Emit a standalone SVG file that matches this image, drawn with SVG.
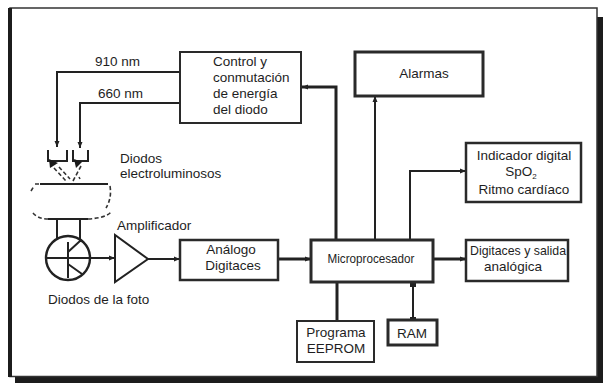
<svg xmlns="http://www.w3.org/2000/svg" width="603" height="383" viewBox="0 0 603 383">
<style>
text{font-family:"Liberation Sans",Arial,sans-serif;font-size:13.5px;fill:#1e1e1e}
.box{fill:#fff;stroke:#2a2a2a}
.ln{fill:none;stroke:#222;stroke-width:2}
.thk{fill:none;stroke:#222;stroke-width:3}
.dsh{fill:none;stroke:#333;stroke-width:1.6;stroke-dasharray:4 2.5}
.mid{text-anchor:middle}
</style>
<defs>
<marker id="ar" markerUnits="userSpaceOnUse" markerWidth="7" markerHeight="7" refX="6" refY="3.5" orient="auto">
<path d="M0,1 L6,3.5 L0,6 Z" fill="#222"/>
</marker>
<marker id="sq" markerUnits="userSpaceOnUse" markerWidth="6" markerHeight="6" refX="3" refY="3" orient="auto">
<rect x="0" y="0" width="6" height="6" fill="#222"/>
</marker>
</defs>
<g id="frame">
<rect x="15" y="17" width="588" height="366" fill="#1c1c1c"/>
<rect x="10" y="8" width="587" height="368.5" fill="#fff" stroke="#333" stroke-width="1.5"/>
<line x1="10" y1="8" x2="10" y2="377" stroke="#1c1c1c" stroke-width="4"/>
</g>
<g id="connectors">
<path class="ln" d="M196,72 H57 V147" marker-end="url(#ar)"/>
<rect x="192" y="70" width="5" height="5" fill="#222"/>
<path class="ln" d="M193,98 V103 H80 V148" marker-end="url(#ar)"/>
<path class="ln" d="M90,258 H115" marker-end="url(#ar)"/>
<path class="ln" d="M148,259 H180" marker-end="url(#ar)"/>
<path class="thk" d="M278,259 H311" marker-end="url(#ar)"/>
<path class="thk" d="M336,240 V87 H302" marker-end="url(#ar)"/>
<path class="ln" d="M375,240 V96" marker-end="url(#ar)"/>
<path class="ln" d="M410,240 V171 H466" marker-end="url(#ar)"/>
<path class="thk" d="M433,259 H466" marker-end="url(#ar)"/>
<path class="thk" d="M337,282 V321"/>
<path class="ln" d="M413,284 V320" marker-start="url(#sq)" marker-end="url(#sq)"/>
</g>
<g id="leds">
<path class="ln" d="M48,150 V161 H67 V150"/>
<polygon points="49,159 58,163 50,168" fill="#1a1a1a"/>
<path class="ln" d="M73,150 V161 H88 V150"/>
<polygon points="74,159 82,162 76,168" fill="#1a1a1a"/>
<path class="dsh" d="M54,168 L66,181 M59,167 L70,179 M81,166 L73,181 M79,177 L80,179"/>
<text x="120" y="163">Diodos</text>
<text x="120" y="178">electroluminosos</text>
</g>
<g id="finger">
<path class="ln" d="M40,184 H108" stroke-width="1.6"/>
<path class="dsh" d="M31,191 L34,186 M35,184 H40"/>
<path class="dsh" d="M110,186 Q112,198 106,208"/>
<path class="dsh" d="M33,213 Q38,219 48,219"/>
<path class="ln" d="M48,219 H88" stroke-width="1.6"/>
<path class="dsh" d="M88,219 Q106,218 111,212"/>
</g>
<g id="photodiode">
<path class="ln" d="M57,220 V240 M80,220 V242"/>
<circle cx="68" cy="258" r="22" fill="none" stroke="#222" stroke-width="2.4"/>
<path class="ln" d="M45,258 H90 M68,242 V278 M68,252 L80,241 M68,264 L82,274"/>
<text x="48" y="304">Diodos de la foto</text>
</g>
<g id="amplifier">
<polygon points="115,235 115,282 148,259" fill="#fff" stroke="#222" stroke-width="2"/>
<text x="117" y="230">Amplificador</text>
</g>
<g id="control">
<rect class="box" x="180" y="52" width="121" height="71" stroke-width="2"/>
<text x="213" y="66">Control y</text>
<text x="213" y="82">conmutación</text>
<text x="213" y="98">de energía</text>
<text x="213" y="114">del diodo</text>
</g>
<g id="wavelengths">
<text x="95" y="66">910 nm</text>
<text x="98" y="98">660 nm</text>
</g>
<g id="alarmas">
<rect class="box" x="355" y="52" width="128" height="44" stroke-width="3"/>
<text class="mid" x="424" y="78">Alarmas</text>
</g>
<g id="indicador">
<rect class="box" x="466" y="143" width="115" height="59" stroke-width="2.5"/>
<text class="mid" x="524" y="160">Indicador digital</text>
<text class="mid" x="521" y="176">SpO<tspan font-size="8" dy="2.5">2</tspan></text>
<text class="mid" x="524" y="194">Ritmo cardíaco</text>
</g>
<g id="analogo">
<rect class="box" x="180" y="240" width="98" height="40" stroke-width="2.5"/>
<text class="mid" x="231" y="254">Análogo</text>
<text class="mid" x="233" y="270">Digitaces</text>
</g>
<g id="micro">
<rect class="box" x="311" y="240" width="122" height="42" stroke-width="3"/>
<text class="mid" x="371" y="263" textLength="87" lengthAdjust="spacingAndGlyphs">Microprocesador</text>
</g>
<g id="salida">
<rect class="box" x="466" y="240" width="102" height="41" stroke-width="2.5"/>
<text class="mid" x="518" y="255" textLength="96" lengthAdjust="spacingAndGlyphs">Digitaces y salida</text>
<text class="mid" x="513" y="271">analógica</text>
</g>
<g id="eeprom">
<rect class="box" x="297" y="321" width="77" height="41" stroke-width="2"/>
<text class="mid" x="336" y="337">Programa</text>
<text class="mid" x="336" y="353">EEPROM</text>
</g>
<g id="ram">
<rect class="box" x="388" y="320" width="49" height="25" stroke-width="3"/>
<text class="mid" x="412" y="338">RAM</text>
</g>
</svg>
